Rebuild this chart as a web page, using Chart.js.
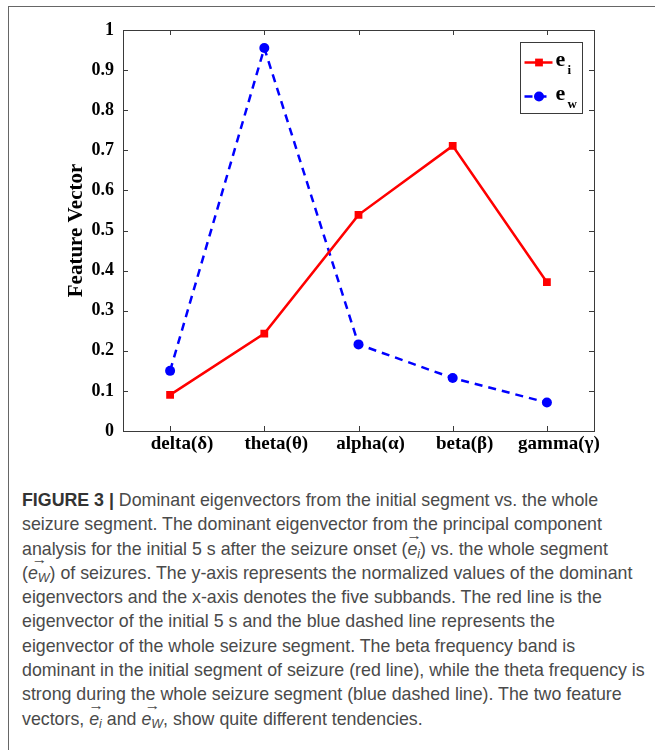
<!DOCTYPE html>
<html>
<head>
<meta charset="utf-8">
<script src="https://cdn.jsdelivr.net/npm/chart.js@4/dist/chart.umd.min.js"></script>
<style>
  html, body { margin: 0; padding: 0; background: #fff; width: 655px; height: 750px; overflow: hidden; }
  #frame { position: absolute; left: 8px; top: 6px; width: 720px; height: 800px; border: 1px solid #666; }
  #plot { position: absolute; left: 0; top: 0; }
  #caption { position: absolute; left: 22px; top: 488px; font: 17.8px/24.3px "Liberation Sans", Arial, sans-serif; color: #4a4a4a; white-space: nowrap; }
  #caption b { color: #333; }
  .vec { position: relative; display: inline-block; font-style: italic; }
  .vec .arr { position: absolute; left: 0; right: -1px; top: -0.62em; font-style: normal; font-size: 0.8em; line-height: 1; text-align: center; transform: scaleX(1.1); }
  .vec sub { font-size: 0.7em; vertical-align: -0.25em; line-height: 0; }
</style>
</head>
<body>
<div id="frame"></div>
<canvas id="plot" width="655" height="480"></canvas>
<div id="caption">
<b>FIGURE 3 |</b> Dominant eigenvectors from the initial segment vs. the whole<br>
seizure segment. The dominant eigenvector from the principal component<br>
analysis for the initial 5 s after the seizure onset (<span class="vec"><span class="arr">&rarr;</span>e<sub>i</sub></span>) vs. the whole segment<br>
(<span class="vec"><span class="arr">&rarr;</span>e<sub>W</sub></span>) of seizures. The y-axis represents the normalized values of the dominant<br>
eigenvectors and the x-axis denotes the five subbands. The red line is the<br>
eigenvector of the initial 5 s and the blue dashed line represents the<br>
eigenvector of the whole seizure segment. The beta frequency band is<br>
dominant in the initial segment of seizure (red line), while the theta frequency is<br>
strong during the whole seizure segment (blue dashed line). The two feature<br>
vectors, <span class="vec"><span class="arr">&rarr;</span>e<sub>i</sub></span> and <span class="vec"><span class="arr">&rarr;</span>e<sub>W</sub></span>, show quite different tendencies.
</div>
<script>
// Frequency subbands on the x-axis
const bands = ['delta(\u03b4)', 'theta(\u03b8)', 'alpha(\u03b1)', 'beta(\u03b2)', 'gamma(\u03b3)'];
// Dominant eigenvector, initial 5 s after onset
const initialSegment = [0.09, 0.243, 0.539, 0.711, 0.371];
// Dominant eigenvector, whole seizure segment
const wholeSegment = [0.15, 0.955, 0.216, 0.132, 0.071];
// Y tick labels
const yTickLabels = ['0', '0.1', '0.2', '0.3', '0.4', '0.5', '0.6', '0.7', '0.8', '0.9', '1'];
// Legend entries: base letter and subscript
const legendLabels = [['e', 'i'], ['e', 'w']];

const SERIF = '"Liberation Serif", "Times New Roman", serif';

// Axis box with inward tick marks on all four sides
const boxTicks = {
  id: 'boxTicks',
  afterDraw(chart) {
    const ctx = chart.ctx;
    const a = chart.chartArea;
    const xs = chart.scales.x, ys = chart.scales.y;
    const len = 5;
    ctx.save();
    ctx.strokeStyle = '#3a3a3a';
    ctx.lineWidth = 1;
    ctx.beginPath();
    ys.ticks.forEach(t => {
      const py = Math.round(ys.getPixelForValue(t.value)) + 0.5;
      ctx.moveTo(a.left, py); ctx.lineTo(a.left + len, py);
      ctx.moveTo(a.right, py); ctx.lineTo(a.right - len, py);
    });
    bands.forEach((b, i) => {
      const px = Math.round(xs.getPixelForValue(i)) + 0.5;
      ctx.moveTo(px, a.bottom); ctx.lineTo(px, a.bottom - len);
      ctx.moveTo(px, a.top); ctx.lineTo(px, a.top + len);
    });
    ctx.stroke();
    ctx.strokeRect(Math.round(a.left) + 0.5, Math.round(a.top) + 0.5,
                   Math.round(a.right - a.left), Math.round(a.bottom - a.top));
    ctx.restore();
  }
};

// Boxed legend in the upper-right corner, with subscripted labels
const boxLegend = {
  id: 'boxLegend',
  afterDraw(chart) {
    const ctx = chart.ctx;
    const a = chart.chartArea;
    const x0 = Math.round(a.right) - 74 + 0.5, y0 = Math.round(a.top) + 12 + 0.5;
    const w = 62, h = 71;
    ctx.save();
    ctx.fillStyle = '#fff';
    ctx.fillRect(x0, y0, w, h);
    ctx.strokeStyle = '#3a3a3a';
    ctx.lineWidth = 1;
    ctx.strokeRect(x0, y0, w, h);
    const rows = [20, 54];
    chart.data.datasets.forEach((ds, i) => {
      const ry = y0 + rows[i];
      ctx.save();
      ctx.strokeStyle = ds.borderColor;
      ctx.lineWidth = ds.borderWidth;
      ctx.setLineDash(ds.borderDash || []);
      ctx.beginPath();
      ctx.moveTo(x0 + 4, ry); ctx.lineTo(x0 + 32, ry);
      ctx.stroke();
      ctx.setLineDash([]);
      ctx.fillStyle = ds.pointBackgroundColor;
      ctx.strokeStyle = ds.pointBorderColor;
      Chart.helpers.drawPoint(ctx, { pointStyle: ds.pointStyle, radius: ds.pointRadius, rotation: 0, borderWidth: 0 }, x0 + 18.5, ry);
      ctx.restore();
      ctx.fillStyle = '#000';
      ctx.textBaseline = 'alphabetic';
      ctx.font = 'bold 22px ' + SERIF;
      ctx.fillText(legendLabels[i][0], x0 + 35, ry + 3);
      ctx.font = 'bold 13px ' + SERIF;
      ctx.fillText(legendLabels[i][1], x0 + 47, ry + 11.5);
    });
    ctx.restore();
  }
};

new Chart(document.getElementById('plot'), {
  type: 'line',
  data: {
    labels: bands,
    datasets: [
      {
        label: 'e_i',
        data: initialSegment,
        borderColor: '#ff0000',
        backgroundColor: '#ff0000',
        pointBackgroundColor: '#ff0000',
        pointBorderColor: '#ff0000',
        borderWidth: 2.5,
        pointStyle: 'rect',
        pointRadius: 5.5,
        pointBorderWidth: 0,
        tension: 0,
        fill: false
      },
      {
        label: 'e_w',
        data: wholeSegment,
        borderColor: '#0000ff',
        backgroundColor: '#0000ff',
        pointBackgroundColor: '#0000ff',
        pointBorderColor: '#0000ff',
        borderWidth: 2.5,
        borderDash: [8, 6],
        pointStyle: 'circle',
        pointRadius: 5,
        pointBorderWidth: 0,
        tension: 0,
        fill: false
      }
    ]
  },
  options: {
    responsive: false,
    animation: false,
    devicePixelRatio: 1,
    layout: { padding: { left: 0, right: 61, top: 30, bottom: 0 } },
    plugins: { legend: { display: false }, tooltip: { enabled: false } },
    scales: {
      x: {
        type: 'category',
        offset: true,
        grid: { display: false, drawTicks: false },
        border: { display: false },
        ticks: {
          color: '#000',
          font: { family: SERIF, size: 19, weight: 'bold' },
          padding: 2,
          labelOffset: 12,
          maxRotation: 0,
          autoSkip: false
        },
        afterFit(scale) { scale.height = 49; }
      },
      y: {
        min: 0,
        max: 1,
        grid: { display: false, drawTicks: false },
        border: { display: false },
        ticks: {
          stepSize: 0.1,
          color: '#000',
          font: { family: SERIF, size: 18, weight: 'bold' },
          padding: 9,
          callback: (v, i) => yTickLabels[i]
        },
        title: {
          display: true,
          text: 'Feature Vector',
          color: '#000',
          font: { family: SERIF, size: 21, weight: 'bold' },
          padding: { top: 64, bottom: 0 }
        },
        afterFit(scale) { scale.width = 123; }
      }
    }
  },
  plugins: [boxTicks, boxLegend]
});
</script>
</body>
</html>
